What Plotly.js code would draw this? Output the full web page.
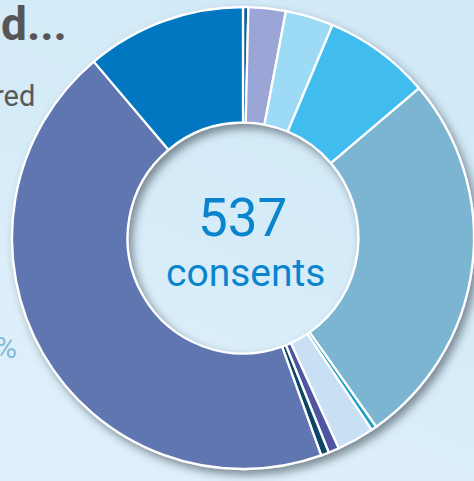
<!DOCTYPE html>
<html>
<head>
<meta charset="utf-8">
<script src="https://cdn.plot.ly/plotly-3.0.1.min.js"></script>
<style>
  html, body { margin: 0; padding: 0; overflow: hidden; }
  body {
    width: 474px; height: 481px;
    background: linear-gradient(205deg, #D1E9F7 0%, #D5EBF8 45%, #DDEFFA 75%, #E1F1FB 100%);
  }
  #chart { width: 474px; height: 481px; }
</style>
</head>
<body>
<div id="chart"></div>
<script>
// Categories (clockwise from 12 o'clock) and consent counts
const categories = [
  "Category A", "Category B", "Category C", "Category D", "Category E",
  "Category F", "Category G", "Category H", "Category I", "Category J", "Category K"
];
const consents = [2, 14, 18, 40, 142, 2, 14, 4, 3, 238, 60];
const sliceColors = [
  "#0A5E98", "#9BA6D6", "#9DDAF5", "#3FBCEE", "#7CB5D2",
  "#1A9EC2", "#C9E0F4", "#4F57A1", "#0B4567", "#5F76B0", "#0077C0"
];
const totalLabel = "537";
const unitLabel = "consents";

const trace = {
  type: "pie",
  labels: categories,
  values: consents,
  sort: false,
  direction: "clockwise",
  rotation: 0,
  hole: 0.5,
  textinfo: "none",
  hoverinfo: "label+value",
  marker: { colors: sliceColors, line: { color: "#FFFFFF", width: 2.3 } },
  domain: { x: [12 / 474, 1], y: [0.02495, 0.98545] },
  showlegend: false
};

const layout = {
  width: 474,
  height: 481,
  margin: { l: 0, r: 0, t: 0, b: 0, pad: 0 },
  paper_bgcolor: "rgba(0,0,0,0)",
  plot_bgcolor: "rgba(0,0,0,0)",
  font: { family: "Roboto, sans-serif" },
  annotations: [
    { text: totalLabel, xref: "paper", yref: "paper", x: 243 / 474, y: 1 - 218 / 481,
      xanchor: "center", yanchor: "middle", showarrow: false,
      font: { family: "Roboto", size: 53, color: "#0A85CD" } },
    { text: unitLabel, xref: "paper", yref: "paper", x: 245 / 474, y: 1 - 273 / 481,
      xanchor: "center", yanchor: "middle", showarrow: false,
      font: { family: "Roboto", size: 39, color: "#0A85CD" } },
    { text: "<b>d...</b>", xref: "paper", yref: "paper", x: 0, y: 1 - 24 / 481,
      xanchor: "left", yanchor: "middle", showarrow: false, xshift: -1,
      font: { family: "Roboto", size: 46, color: "#565656" } },
    { text: "red", xref: "paper", yref: "paper", x: 37 / 474, y: 1 - 96 / 481,
      xanchor: "right", yanchor: "middle", showarrow: false,
      font: { family: "Roboto", size: 29, color: "#585858" } },
    { text: "%", xref: "paper", yref: "paper", x: 19 / 474, y: 1 - 347 / 481,
      xanchor: "right", yanchor: "middle", showarrow: false,
      font: { family: "Roboto", size: 30, color: "#82BAD8" } }
  ]
};

Plotly.newPlot("chart", [trace], layout, { displayModeBar: false, staticPlot: true }).then(function (gd) {
  const svg = gd.querySelector("svg.main-svg");
  const ns = "http://www.w3.org/2000/svg";
  let defs = svg.querySelector("defs");
  if (!defs) { defs = document.createElementNS(ns, "defs"); svg.insertBefore(defs, svg.firstChild); }
  const f = document.createElementNS(ns, "filter");
  f.setAttribute("id", "ringShadow");
  f.setAttribute("x", "-20%"); f.setAttribute("y", "-20%");
  f.setAttribute("width", "140%"); f.setAttribute("height", "140%");
  const ds = document.createElementNS(ns, "feDropShadow");
  ds.setAttribute("dx", "4"); ds.setAttribute("dy", "5");
  ds.setAttribute("stdDeviation", "4");
  ds.setAttribute("flood-color", "#2E3A45");
  ds.setAttribute("flood-opacity", "0.55");
  f.appendChild(ds);
  defs.appendChild(f);
  const pl = svg.querySelector(".pielayer");
  if (pl) pl.setAttribute("filter", "url(#ringShadow)");
});
</script>
</body>
</html>
